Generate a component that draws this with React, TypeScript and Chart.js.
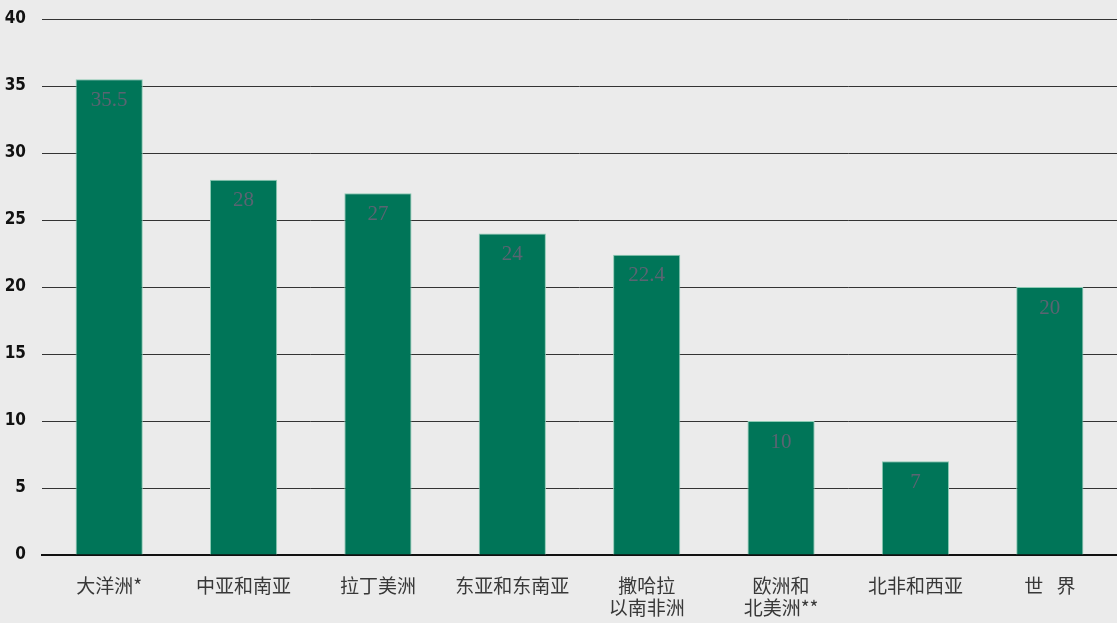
import React, { useEffect, useRef } from "react";
import { Chart, registerables } from "chart.js";

Chart.register(...registerables);

const categories: (string | string[])[] = [
  "大洋洲*",
  "中亚和南亚",
  "拉丁美洲",
  "东亚和东南亚",
  ["撒哈拉", "以南非洲"],
  ["欧洲和", "北美洲**"],
  "北非和西亚",
  "世\u2002\u2009界",
];
const values: number[] = [35.5, 28, 27, 24, 22.4, 10, 7, 20];
const valueLabels: string[] = ["35.5", "28", "27", "24", "22.4", "10", "7", "20"];
const yTicks: number[] = [0, 5, 10, 15, 20, 25, 30, 35, 40];

const labelPlugin = {
  id: "barValueLabels",
  afterDatasetsDraw(chart: any) {
    const ctx = chart.ctx;
    const meta = chart.getDatasetMeta(0);
    ctx.save();
    ctx.font = '21px "Liberation Serif", serif';
    ctx.fillStyle = "#5a6472";
    ctx.textAlign = "center";
    ctx.textBaseline = "middle";
    meta.data.forEach((bar: any, i: number) => {
      ctx.fillText(valueLabels[i], bar.x, bar.y + 21);
    });
    ctx.restore();
  },
};

const bgPlugin = {
  id: "bg",
  beforeDraw(chart: any) {
    const ctx = chart.ctx;
    ctx.save();
    ctx.fillStyle = "#ebebeb";
    ctx.fillRect(0, 0, chart.width, chart.height);
    ctx.restore();
  },
};

export default function App() {
  const ref = useRef<HTMLCanvasElement>(null);
  useEffect(() => {
    document.body.style.margin = "0";
    document.body.style.background = "#ebebeb";
    const chart = new Chart(ref.current!, {
      type: "bar",
      data: {
        labels: categories,
        datasets: [
          {
            data: values,
            backgroundColor: "#007558",
            borderColor: "#8ccab4",
            borderWidth: 1,
            borderSkipped: "bottom",
            barPercentage: 0.5,
            categoryPercentage: 1,
          },
        ],
      },
      options: {
        animation: false,
        responsive: false,
        maintainAspectRatio: false,
        layout: { padding: { top: 19, right: 0, left: 0, bottom: 0 } },
        plugins: { legend: { display: false }, tooltip: { enabled: false } },
        scales: {
          x: {
            afterFit: (s: any) => {
              s.height = 68;
              s.paddingLeft = 0;
              s.paddingRight = 0;
            },
            grid: { display: false, drawTicks: false },
            border: { display: true, color: "#111", width: 2 },
            ticks: {
              padding: 19,
              color: "#383838",
              font: { family: '"Noto Sans CJK SC", sans-serif', size: 19, lineHeight: 1.2 },
              maxRotation: 0,
              autoSkip: false,
            },
          },
          y: {
            min: 0,
            max: 40,
            afterFit: (s: any) => {
              s.width = 42;
              s.paddingTop = 0;
              s.paddingBottom = 0;
            },
            afterBuildTicks: (s: any) => {
              s.ticks = yTicks.map((v) => ({ value: v }));
            },
            grid: { color: "#333", lineWidth: 1, drawTicks: false },
            border: { display: false },
            ticks: {
              padding: 16,
              color: "#111",
              font: { family: '"Liberation Sans Narrow", "DejaVu Sans Condensed", sans-serif', size: 17, weight: "bold" },
            },
          },
        },
      },
      plugins: [bgPlugin, labelPlugin],
    });
    return () => chart.destroy();
  }, []);
  return (
    <div style={{ width: 1117, height: 623, background: "#ebebeb" }}>
      <canvas ref={ref} width={1117} height={623} style={{ display: "block" }} />
    </div>
  );
}
